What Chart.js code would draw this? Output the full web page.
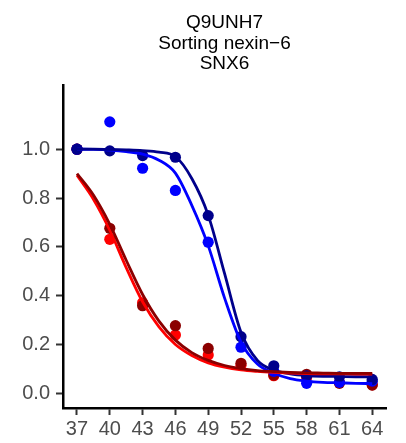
<!DOCTYPE html>
<html>
<head>
<meta charset="utf-8">
<script src="https://cdn.jsdelivr.net/npm/chart.js@4"></script>
<style>
  body { margin: 0; background: #fff; }
</style>
</head>
<body>
<canvas id="meltChart" width="406" height="443"></canvas>
<script>
// Temperatures and tick labels
const temps  = [37, 40, 43, 46, 49, 52, 55, 58, 61, 64];
const xTicks = [37, 40, 43, 46, 49, 52, 55, 58, 61, 64];
const yTicks = [0, 0.2, 0.4, 0.6, 0.8, 1.0];

const blueVals    = [1.0, 1.112, 0.922, 0.831, 0.619, 0.189, 0.09, 0.041, 0.045, 0.05];
const navyVals    = [1.0, 0.993, 0.974, 0.967, 0.728, 0.232, 0.113, 0.072, 0.068, 0.057];
const redVals     = [1.0, 0.631, 0.371, 0.239, 0.157, 0.115, 0.072, 0.065, 0.045, 0.035];
const darkRedVals = [1.0, 0.676, 0.359, 0.277, 0.184, 0.123, 0.075, 0.078, 0.041, 0.034];

// Fitted curves
const fitX       = [37, 38.5, 40, 41.5, 43, 44.5, 46, 47.5, 49, 50.5, 52, 53.5, 55, 56.5, 58, 59.5, 61, 62.5, 64];
const blueFit    = [1.0, 0.999, 0.996, 0.99, 0.98, 0.955, 0.902, 0.77, 0.605, 0.39, 0.21, 0.12, 0.082, 0.06, 0.05, 0.045, 0.043, 0.041, 0.04];
const navyFit    = [1.0, 1.0, 0.999, 0.997, 0.994, 0.988, 0.97, 0.88, 0.73, 0.49, 0.25, 0.135, 0.095, 0.08, 0.073, 0.07, 0.069, 0.068, 0.068];
const redFit     = [0.893, 0.795, 0.668, 0.515, 0.375, 0.272, 0.2, 0.155, 0.125, 0.107, 0.096, 0.09, 0.086, 0.083, 0.081, 0.08, 0.08, 0.079, 0.079];
const darkRedFit = [0.9, 0.812, 0.692, 0.545, 0.405, 0.296, 0.218, 0.167, 0.135, 0.114, 0.101, 0.093, 0.089, 0.086, 0.084, 0.083, 0.082, 0.082, 0.082];

const FONT = '"Liberation Sans", Arial, sans-serif';

function pts(xs, ys) { return xs.map((x, i) => ({ x: x, y: ys[i] })); }

function lineSet(data, color, order) {
  return { data: pts(fitX, data), showLine: true, borderColor: color, borderWidth: 2.8,
           pointRadius: 0, cubicInterpolationMode: 'monotone', order: order };
}
function pointSet(data, color, order) {
  return { data: pts(temps, data), showLine: false, backgroundColor: color, borderColor: color,
           borderWidth: 0, pointRadius: 5.6, order: order };
}

new Chart(document.getElementById('meltChart'), {
  type: 'scatter',
  data: {
    datasets: [
      lineSet(darkRedFit, '#8B0000', 0),
      lineSet(redFit, '#FF0000', 1),
      lineSet(navyFit, '#00008B', 2),
      lineSet(blueFit, '#0000FF', 3),
      pointSet(navyVals, '#00008B', 4),
      pointSet(blueVals, '#0000FF', 5),
      pointSet(darkRedVals, '#8B0000', 6),
      pointSet(redVals, '#FF0000', 7)
    ]
  },
  options: {
    responsive: false,
    devicePixelRatio: 1,
    animation: false,
    layout: { padding: { top: 0, right: 20, bottom: 0, left: 0 } },
    plugins: {
      legend: { display: false },
      tooltip: { enabled: false },
      title: {
        display: true,
        fullSize: false,
        text: ['Q9UNH7', 'Sorting nexin\u22126', 'SNX6'],
        color: '#000',
        font: { family: FONT, size: 19, weight: 'normal', lineHeight: 1.1 },
        padding: { top: 12, bottom: 11 }
      }
    },
    scales: {
      x: {
        type: 'linear',
        min: 35.72,
        max: 65.26,
        afterBuildTicks: s => { s.ticks = xTicks.map(v => ({ value: v })); },
        afterFit: s => { s.height = 35; },
        grid: { display: true, drawOnChartArea: false, drawTicks: true, tickLength: 7, tickWidth: 2, color: '#333333' },
        border: { display: true, color: '#000', width: 2.5 },
        ticks: { color: '#4D4D4D', font: { family: FONT, size: 20 }, padding: 2, maxRotation: 0 }
      },
      y: {
        type: 'linear',
        min: -0.06,
        max: 1.26,
        afterBuildTicks: s => { s.ticks = yTicks.map(v => ({ value: v })); },
        afterFit: s => { s.width = 63; },
        grid: { display: true, drawOnChartArea: false, drawTicks: true, tickLength: 7, tickWidth: 2, color: '#333333' },
        border: { display: true, color: '#000', width: 2.5 },
        ticks: { color: '#4D4D4D', font: { family: FONT, size: 20 }, padding: 6,
                 callback: v => v.toFixed(1) }
      }
    }
  }
});
</script>
</body>
</html>
